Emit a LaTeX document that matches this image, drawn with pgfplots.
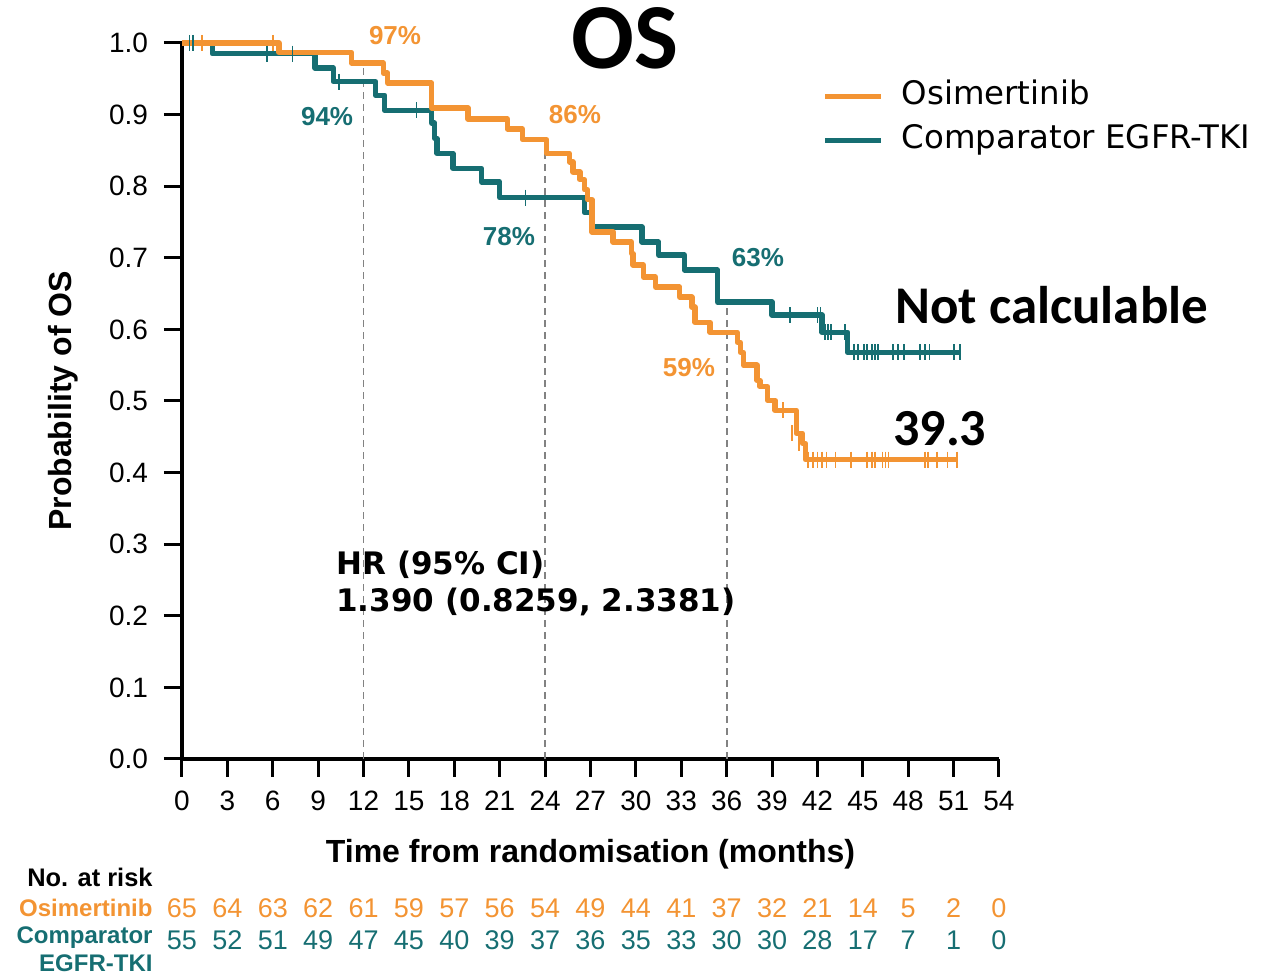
\documentclass[border=0pt]{standalone}
\usepackage{fontspec}
\setmainfont{Liberation Sans}
\newfontfamily\dejavu{DejaVu Sans}
\newfontfamily\carlito{Carlito}
\usepackage{pgfplots}
\pgfplotsset{compat=1.18}
\definecolor{osi}{RGB}{243,148,51}
\definecolor{comp}{RGB}{22,110,114}
\definecolor{dashgray}{RGB}{130,130,130}
\begin{document}
\begin{tikzpicture}
\begin{axis}[
  scale only axis, width=408.5pt, height=358pt,
  xmin=0, xmax=54, ymin=0, ymax=1,
  axis lines=left, axis line style={-, line width=1.6pt, black},
  xtick={0,3,6,9,12,15,18,21,24,27,30,33,36,39,42,45,48,51,54},
  ytick={0,0.1,0.2,0.3,0.4,0.5,0.6,0.7,0.8,0.9,1.0},
  tick align=outside, major tick length=9pt,
  tick style={line width=1.5pt, black},
  /pgf/number format/assume math mode=true,
  yticklabel style={/pgf/number format/fixed, /pgf/number format/fixed zerofill,
     /pgf/number format/precision=1, xshift=-4.5pt},
  xticklabel style={yshift=-3.5pt},
  ticklabel style={font=\fontsize{14}{16}\selectfont},
  xlabel={Time from randomisation (months)},
  ylabel={Probability of OS},
  label style={font=\bfseries\fontsize{16}{19}\selectfont},
  xlabel style={at={(rel axis cs:0.5,-0.1335)}, anchor=center},
  ylabel style={at={(rel axis cs:-0.1455,0.5)}, anchor=center},
  clip=false,
  legend style={draw=none, fill=none, at={(axis cs:42.3,0.8943)}, anchor=west,
     inner sep=0pt, row sep=6.5pt,
     nodes={inner sep=0pt, text height=11.8pt, text depth=3.6pt},
     font=\dejavu\fontsize{16.2}{19}\selectfont,
     /tikz/every odd column/.append style={column sep=9pt}},
  legend cell align=left,
  legend image code/.code={\draw[#1] (0pt,0pt) -- (28pt,0pt);},
]
\addlegendimage{osi, line width=2.7pt}
\addlegendentry{Osimertinib}
\addlegendimage{comp, line width=2.7pt}
\addlegendentry{Comparator EGFR-TKI}

% reference dashed lines
\addplot[forget plot, dashgray, line width=0.9pt, dash pattern=on 3.5pt off 2.5pt] coordinates {(12,0) (12,0.972)};
\addplot[forget plot, dashgray, line width=0.9pt, dash pattern=on 3.5pt off 2.5pt] coordinates {(24,0) (24,0.865)};
\addplot[forget plot, dashgray, line width=0.9pt, dash pattern=on 3.5pt off 2.5pt] coordinates {(36,0) (36,0.638)};

% Comparator EGFR-TKI
\addplot[forget plot, const plot, comp, line width=2.7pt, line join=round] coordinates {
(0,1.000) (2.0,0.985) (8.8,0.965) (10.0,0.946) (12.8,0.927) (13.4,0.906)
(16.5,0.888) (16.7,0.867) (16.85,0.846) (17.9,0.825) (19.8,0.806) (21.0,0.784)
(26.6,0.763) (27.1,0.743) (30.4,0.722) (31.5,0.704) (33.2,0.683) (35.4,0.638)
(39.0,0.620) (42.3,0.596) (44.0,0.568) (51.4,0.568)};
\addplot[forget plot, only marks, comp, mark=|, mark size=4pt, mark options={line width=0.9pt}] coordinates {
(0.5,1.0) (0.75,1.0) (5.6,0.985) (7.3,0.985) (10.4,0.946) (15.5,0.906) (22.7,0.784)
(40.2,0.620) (42.0,0.620) (42.2,0.620) (42.5,0.596) (42.7,0.596) (42.9,0.596) (43.8,0.596)
(44.4,0.568) (44.7,0.568) (45.1,0.568) (45.3,0.568) (45.6,0.568) (45.8,0.568) (46.0,0.568)
(47.0,0.568) (47.3,0.568) (47.7,0.568) (48.8,0.568) (49.1,0.568) (49.4,0.568) (51.0,0.568) (51.4,0.568)};

% Osimertinib
\addplot[forget plot, const plot, osi, line width=2.7pt, line join=round] coordinates {
(0,1.000) (6.4,0.987) (11.2,0.972) (13.3,0.958) (13.6,0.944) (16.5,0.909)
(18.9,0.894) (21.5,0.880) (22.5,0.865) (24.1,0.846) (25.6,0.834) (25.85,0.820)
(26.3,0.809) (26.6,0.795) (26.8,0.781) (27.1,0.736) (28.5,0.722) (29.7,0.706)
(29.8,0.690) (30.5,0.673) (31.3,0.659) (32.9,0.645) (33.7,0.631) (33.9,0.610)
(34.9,0.596) (36.7,0.582) (36.9,0.568) (37.1,0.550) (38.0,0.529) (38.2,0.520)
(38.7,0.501) (39.2,0.487) (40.6,0.455) (41.0,0.441) (41.2,0.418) (51.2,0.418)};
\addplot[forget plot, only marks, osi, mark=|, mark size=4pt, mark options={line width=0.9pt}] coordinates {
(1.3,1.0) (6.0,1.0) (39.7,0.487) (40.3,0.455) (40.8,0.441)
(41.4,0.418) (41.7,0.418) (42.0,0.418) (42.3,0.418) (42.6,0.418) (43.2,0.418) (44.2,0.418)
(45.3,0.418) (45.6,0.418) (45.8,0.418) (46.3,0.418) (46.5,0.418) (46.7,0.418)
(49.1,0.418) (49.3,0.418) (49.9,0.418) (50.6,0.418) (51.2,0.418)};

% numbers at risk
\addplot[forget plot, draw=none, mark=none, nodes near coords, point meta=explicit symbolic,
  every node near coord/.style={anchor=center, text=osi, font=\fontsize{13.5}{15}\selectfont}] coordinates {
(0,-0.208)[65] (3,-0.208)[64] (6,-0.208)[63] (9,-0.208)[62] (12,-0.208)[61] (15,-0.208)[59]
(18,-0.208)[57] (21,-0.208)[56] (24,-0.208)[54] (27,-0.208)[49] (30,-0.208)[44] (33,-0.208)[41]
(36,-0.208)[37] (39,-0.208)[32] (42,-0.208)[21] (45,-0.208)[14] (48,-0.208)[5] (51,-0.208)[2] (54,-0.208)[0]};
\addplot[forget plot, draw=none, mark=none, nodes near coords, point meta=explicit symbolic,
  every node near coord/.style={anchor=center, text=comp, font=\fontsize{13.5}{15}\selectfont}] coordinates {
(0,-0.253)[55] (3,-0.253)[52] (6,-0.253)[51] (9,-0.253)[49] (12,-0.253)[47] (15,-0.253)[45]
(18,-0.253)[40] (21,-0.253)[39] (24,-0.253)[37] (27,-0.253)[36] (30,-0.253)[35] (33,-0.253)[33]
(36,-0.253)[30] (39,-0.253)[30] (42,-0.253)[28] (45,-0.253)[17] (48,-0.253)[7] (51,-0.253)[1] (54,-0.253)[0]};

\node[anchor=east, inner sep=0pt, font=\bfseries\fontsize{12.7}{14}\selectfont] at (axis cs:-1.92,-0.165) {No. at risk};
\node[anchor=east, inner sep=0pt, text=osi, font=\bfseries\fontsize{12}{14}\selectfont] at (axis cs:-1.92,-0.208) {Osimertinib};
\node[anchor=east, inner sep=0pt, text=comp, font=\bfseries\fontsize{12}{14}\selectfont] at (axis cs:-1.92,-0.249) {Comparator};
\node[anchor=east, inner sep=0pt, text=comp, font=\bfseries\fontsize{12}{14}\selectfont] at (axis cs:-1.92,-0.285) {EGFR-TKI};

% percentages
\node[text=osi, font=\bfseries\fontsize{13}{15}\selectfont] at (axis cs:14.08,1.0098) {97\%};
\node[text=comp, font=\bfseries\fontsize{13}{15}\selectfont] at (axis cs:9.59,0.897) {94\%};
\node[text=osi, font=\bfseries\fontsize{13}{15}\selectfont] at (axis cs:25.97,0.900) {86\%};
\node[text=comp, font=\bfseries\fontsize{13}{15}\selectfont] at (axis cs:21.61,0.729) {78\%};
\node[text=comp, font=\bfseries\fontsize{13}{15}\selectfont] at (axis cs:38.07,0.700) {63\%};
\node[text=osi, font=\bfseries\fontsize{13}{15}\selectfont] at (axis cs:33.51,0.547) {59\%};

% title and annotations
\node[font=\carlito\bfseries\fontsize{46.5}{50}\selectfont] at (axis cs:29.28,1.007) {OS};
\node[anchor=west, inner sep=0pt, font=\carlito\bfseries\fontsize{26.5}{30}\selectfont] at (axis cs:47.12,0.634) {Not calculable};
\node[anchor=west, inner sep=0pt, font=\carlito\bfseries\fontsize{26}{30}\selectfont] at (axis cs:46.99,0.462) {39.3};
\node[anchor=west, inner sep=0pt, font=\dejavu\bfseries\fontsize{15.5}{18}\selectfont] at (axis cs:10.18,0.271) {HR (95\% CI)};
\node[anchor=west, inner sep=0pt, font=\dejavu\bfseries\fontsize{15.5}{18}\selectfont] at (axis cs:10.18,0.219) {1.390 (0.8259, 2.3381)};
\end{axis}
\pgfresetboundingbox
\path[use as bounding box] (-91pt,-109.5pt) rectangle (545.5pt,379.5pt);
\end{tikzpicture}
\end{document}
